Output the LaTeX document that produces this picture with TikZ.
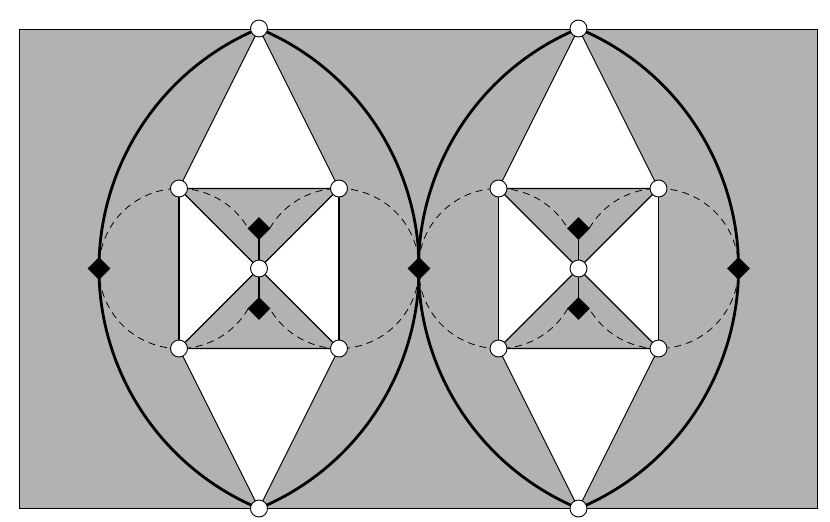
\documentclass[tikz,border=0pt]{standalone}
\usetikzlibrary{shapes.geometric}
\begin{document}
\begin{tikzpicture}[x=1pt,y=-1pt,
  vtx/.style={circle,draw=black,fill=white,inner sep=0pt,minimum size=17pt,line width=0.9pt},
  dia/.style={diamond,fill=black,inner sep=0pt,minimum width=23pt,minimum height=23pt},
  edge/.style={draw=black,line width=1.1pt},
  bigell/.style={draw=black,line width=2.8pt,line join=round},
  dashline/.style={draw=black,line width=0.8pt,dash pattern=on 7pt off 5pt}]
\useasboundingbox (0,0) rectangle (830,522);
\fill[black!30] (19.5,29) rectangle (817.5,508.5);
\draw[line width=1pt] (19.5,29) rectangle (817.5,508.5);
\foreach \cx/\n in {259/a,578.5/b}{
\begin{scope}[shift={(\cx,268.5)}]
  \coordinate (\n T) at (0,-240);
  \coordinate (\n B) at (0,240);
  \coordinate (\n TL) at (-80,-80);
  \coordinate (\n TR) at (80,-80);
  \coordinate (\n BL) at (-80,80);
  \coordinate (\n BR) at (80,80);
  \coordinate (\n C) at (0,0);
  \coordinate (\n L) at (-160,0);
  \coordinate (\n R) at (160,0);
  \coordinate (\n DU) at (0,-40);
  \coordinate (\n DD) at (0,40);
  \draw[bigell] (\n T) arc[start angle=247.38,end angle=112.62,radius=260]
     arc[start angle=67.38,end angle=-67.38,radius=260] -- cycle;
  \fill[white] (\n T) -- (\n TL) -- (\n TR) -- cycle;
  \fill[white] (\n B) -- (\n BL) -- (\n BR) -- cycle;
  \fill[white] (\n TL) -- (\n C) -- (\n BL) -- cycle;
  \fill[white] (\n TR) -- (\n C) -- (\n BR) -- cycle;
  \draw[edge] (\n T) -- (\n TL) -- (\n TR) -- cycle;
  \draw[edge] (\n B) -- (\n BL) -- (\n BR) -- cycle;
  \draw[edge] (\n TL) -- (\n BL) (\n TR) -- (\n BR);
  \draw[edge] (\n TL) -- (\n BR) (\n TR) -- (\n BL);
  \draw[dashline] (-80,0) ++(30:80) arc[start angle=30,end angle=330,radius=80];
  \draw[dashline] (80,0) ++(-150:80) arc[start angle=-150,end angle=150,radius=80];
  \draw[edge] (\n DU) -- (\n DD);
  \foreach \p in {T,B,TL,TR,BL,BR,C}{ \node[vtx] (\n\p n) at (\n\p) {}; }
  \foreach \p in {DU,DD,R}{ \node[dia] (\n\p n) at (\n\p) {}; }
\end{scope}}
\node[dia] (aLn) at (aL) {};
\end{tikzpicture}
\end{document}
